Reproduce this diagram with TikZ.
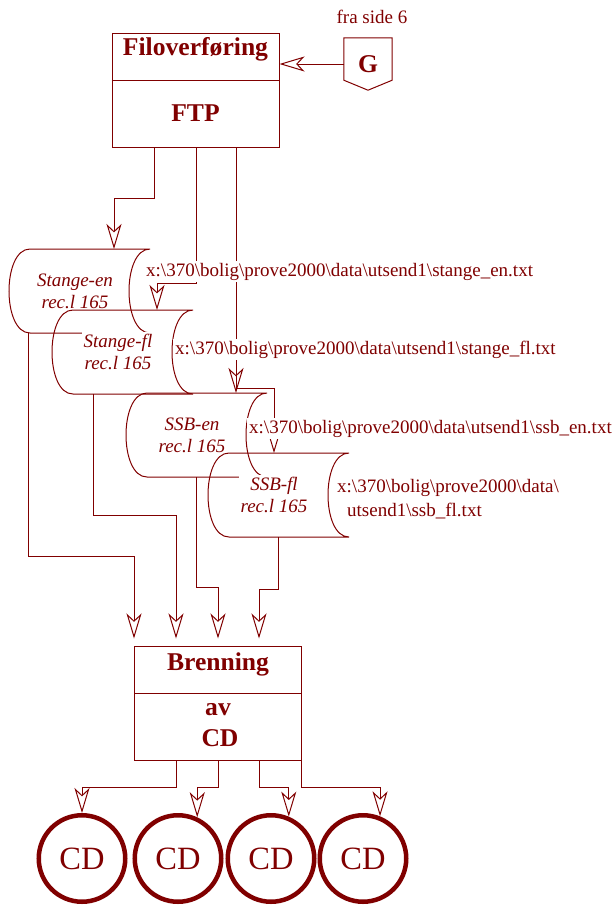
\documentclass[tikz,border=0pt]{standalone}
\usepackage{fontspec}
\setmainfont{Liberation Serif}
\usetikzlibrary{arrows.meta,calc}

\definecolor{ink}{RGB}{128,0,0}
\newcommand\bsl{\textbackslash}

% outline of a stored data symbol round an empty node
\newcommand\storedata[1]{%
  \draw[outline] (#1.north west) -- (#1.north east)
    .. controls ($(#1.north east)+(-28,0)$) and ($(#1.south east)+(-28,0)$) .. (#1.south east)
    -- (#1.south west)
    .. controls ($(#1.south west)+(-28,0)$) and ($(#1.north west)+(-28,0)$) .. (#1.north west);
}

\begin{document}
\begin{tikzpicture}[x=1pt,y=-1pt,color=ink,
  outline/.style={line width=1pt},
  box/.style={draw,line width=1pt,minimum width=167pt,minimum height=114pt,inner sep=0pt},
  store/.style={minimum width=120pt,minimum height=84pt,inner sep=0pt,outer sep=0pt},
  boxtitle/.style={font=\fontsize{25.6}{30}\selectfont\bfseries,inner sep=0pt},
  storetext/.style={font=\fontsize{19}{22}\selectfont\itshape,align=center,fill=white,inner sep=2pt},
  filename/.style={font=\fontsize{19}{24}\selectfont,fill=white,inner sep=2pt,align=left},
  flow/.style={line width=1pt,-{Stealth[open,length=25pt,width=15pt,inset=7pt]}},
  disc/.style={circle,draw,line width=4.5pt,minimum size=86.5pt,inner sep=0pt,font=\fontsize{32.5}{36}\selectfont}]

\useasboundingbox (0,0) rectangle (615,906);

% file transfer
\node[box] (ftp) at (195.5,90) {};
\draw[line width=1pt] ($(ftp.north west)+(0,48)$) -- ($(ftp.north east)+(0,48)$);
\node[boxtitle,anchor=base] (ftptitle) at (195.5,55) {Filoverføring};
\node[boxtitle,anchor=base] (ftpname) at (195.5,121) {FTP};

% off page connector
\node[minimum width=48pt,minimum height=52pt,inner sep=0pt] (g) at (368,64) {};
\draw[line width=1pt] (g.north west) -- (g.north east) -- ($(g.south east)+(0,-10)$)
  -- (g.south) -- ($(g.south west)+(0,-10)$) -- cycle;
\node[boxtitle,anchor=base] (gname) at (368,72) {G};
\node[font=\fontsize{19}{22}\selectfont,anchor=base,inner sep=0pt] (gnote) at (372,23) {fra side 6};

% data files
\node[store,anchor=north west] (stangeen) at (30,249) {};
\storedata{stangeen}
\node[storetext] (stangeentext) at ($(stangeen.center)+(-15,0)$) {Stange-en\\rec.l 165};

\node[store,anchor=north west] (stangefl) at (73,310) {};
\storedata{stangefl}
\node[storetext] (stangefltext) at ($(stangefl.center)+(-15,0)$) {Stange-fl\\rec.l 165};

\node[store,anchor=north west] (ssben) at (147,393) {};
\storedata{ssben}
\node[storetext] (ssbentext) at ($(ssben.center)+(-15,0)$) {SSB-en\\rec.l 165};

\node[store,anchor=north west] (ssbfl) at (229,453) {};
\storedata{ssbfl}
\node[storetext] (ssbfltext) at ($(ssbfl.center)+(-15,0)$) {SSB-fl\\rec.l 165};

% burning
\node[box] (brenning) at (218,703) {};
\draw[line width=1pt] ($(brenning.north west)+(0,48)$) -- ($(brenning.north east)+(0,48)$);
\node[boxtitle,anchor=base] (brtitle) at (218,670) {Brenning};
\node[boxtitle,anchor=base] (brav) at (218,715) {av};
\node[boxtitle,anchor=base] (brcd) at (220,746) {CD};

\node[disc] (cd1) at (82,858.5) {CD};
\node[disc] (cd2) at (178,858.5) {CD};
\node[disc] (cd3) at (271,858.5) {CD};
\node[disc] (cd4) at (363,858.5) {CD};

% flow
\draw[flow] (g.west) -- (g.west -| ftp.east);

\draw[flow] (ftp.south -| 154,0) -- (154,198) -| (stangeen.north -| 114,0);
\draw[flow] (ftp.south -| 196,0) -- (196,283) -| (stangefl.north -| 157,0);
\draw[flow] (ftp.south -| 236,0) -- (ssben.north -| 236,0);
\draw[flow] (ftp.south -| 236,0) -- (236,388) -| (ssbfl.north -| 274,0);

\draw[flow,shorten >=7pt] (stangeen.south -| 28,0) |- (134,556) -- (brenning.north west);
\draw[flow,shorten >=7pt] (stangefl.south -| 93,0) |- (176,515) -- (brenning.north -| 176,0);
\draw[flow,shorten >=7pt] (ssben.south -| 196,0) |- (218,587) -- (brenning.north);
\draw[flow,shorten >=7pt] (ssbfl.south -| 278,0) |- (259,589) -- (brenning.north -| 259,0);

\draw[flow] (brenning.south -| 176,0) -- (176,787) -| (cd1.north);
\draw[flow] (brenning.south) -- (218,787) -| (cd2.65);
\draw[flow] (brenning.south -| 259,0) -- (259,787) -| (cd3.67);
\draw[flow] (brenning.south -| 301,0) -- (301,787) -| (cd4.68);

% file names
\node[filename,anchor=base west] (stangeenfile) at (144,276)
  {x:\bsl 370\bsl bolig\bsl prove2000\bsl data\bsl utsend1\bsl stange\_en.txt};
\node[filename,anchor=base west] (stangeflfile) at (173,354)
  {x:\bsl 370\bsl bolig\bsl prove2000\bsl data\bsl utsend1\bsl stange\_fl.txt};
\node[filename,anchor=base west] (ssbenfile) at (247,433)
  {x:\bsl 370\bsl bolig\bsl prove2000\bsl data\bsl utsend1\bsl ssb\_en.txt};
\node[filename,anchor=west] (ssbflfile) at (335,499)
  {x:\bsl 370\bsl bolig\bsl prove2000\bsl data\bsl\\\hspace*{10pt}utsend1\bsl ssb\_fl.txt};

\end{tikzpicture}
\end{document}
